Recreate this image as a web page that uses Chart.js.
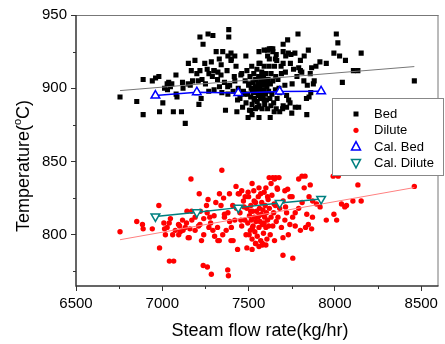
<!DOCTYPE html>
<html>
<head>
<meta charset="utf-8">
<script src="https://cdn.jsdelivr.net/npm/chart.js"></script>
<style>
  body { margin: 0; background: #fff; }
  #chart { display: block; }
</style>
</head>
<body>
<canvas id="chart" width="445" height="344"></canvas>
<script>
/* Data: [steam flow (kg/hr), temperature (C)] */
let bedPoints = [
  [6755,894],[6852,891],[6889,882],[6889,906],[6942,905],[6961,907],[6980,908],[6984,884],[7003,890],
  [7013,900],[7028,903],[7037,904],[7047,901],[7064,884],[7079,909],[7085,894],[7111,884],[7117,904],
  [7133,876],[7151,917],[7162,902],[7168,912],[7189,919],[7200,910],[7208,905],[7212,889],[7218,935],
  [7218,912],[7236,930],[7246,917],[7265,937],[7269,898],[7284,918],[7293,936],[7299,912],[7312,925],
  [7322,911],[7331,901],[7341,916],[7350,925],[7366,885],[7379,901],[7385,940],[7385,935],[7398,924],
  [7398,919],[7417,908],[7427,915],[7432,884],[7436,892],[7455,909],[7465,887],[7474,896],[7484,922],
  [7497,880],[7503,903],[7512,885],[7522,899],[7532,892],[7541,906],[7551,887],[7560,917],[7570,896],
  [7580,910],[7590,892],[7600,903],[7610,926],[7619,915],[7629,888],[7640,927],[7648,884],[7657,908],
  [7663,919],[7676,900],[7688,915],[7697,886],[7700,925],[7713,911],[7726,933],[7732,892],[7742,917],
  [7752,903],[7768,924],[7770,887],[7786,937],[7790,914],[7800,919],[7808,911],[7822,922],[7837,882],
  [7846,926],[7850,894],[7857,910],[7865,914],[7875,903],[7890,915],[7913,918],[7950,917],[7994,924],
  [8008,937],[8017,931],[8027,922],[8043,904],[8061,919],[8107,912],[8133,912],[8152,924],[8460,905],
  [7470,898],[7480,905],[7485,890],[7490,912],[7495,896],[7500,902],[7505,885],[7508,908],[7512,894],
  [7515,900],[7518,915],[7520,889],[7525,904],[7528,897],[7530,910],[7535,893],[7538,901],[7540,886],
  [7543,906],[7546,898],[7548,913],[7550,891],[7553,903],[7556,895],[7558,908],[7560,888],[7563,900],
  [7566,917],[7568,893],[7570,905],[7573,897],[7576,911],[7578,886],[7580,902],[7583,894],[7586,907],
  [7588,899],[7590,915],[7593,889],[7596,904],[7598,896],[7600,910],[7603,892],[7606,901],[7610,886],
  [7613,906],[7616,898],[7620,920],[7623,893],[7626,903],[7630,910],[7635,896],[7640,905],[7645,890],
  [7650,915],[7655,899],[7660,923],[7665,893],[7670,906],[7680,897],[7690,910],[7700,888],[7710,902],
  [7720,895],[7640,925],[7655,920],[7630,927],[7625,880],[7560,880],[7520,882],
  [7230,906],[7250,903],[7270,910],[7290,908],[7300,912],[7320,906],[7340,909],[7360,904],[7375,912],
  [7390,902],[7410,898],[7420,905],[7440,900],[7450,893],[7460,910],[7345,897],[7380,896],[7300,899],
  [7260,913],[7175,905],[7150,903],[7120,900],[7080,896],[7055,903],[7030,899],[7200,897],[7225,893],
  [7400,920],[7420,922],[7380,922],[7330,920],[7700,917],[7715,922],[7730,924],[7745,923],[7760,913],
  [7780,908],[7800,912],[7820,905],[7840,902],[7860,897],[7880,905],[7835,893],[7750,883],[7790,887],
  [7700,930],[7610,922],[7590,926],[7560,925],[7620,927],[7720,887],[7740,890],[7680,884],[7660,886]
];

let dilutePoints = [
  [6755,802],[6852,809],[6885,807],[6889,804],[6942,804],[6980,820],[6984,791],[7009,808],[7013,804],
  [7018,800],[7028,805],[7041,782],[7066,782],[7047,811],[7075,803],[7094,807],[7104,802],[7117,810],
  [7133,805],[7143,816],[7156,798],[7166,838],[7171,810],[7190,803],[7214,828],[7218,807],[7227,796],
  [7237,779],[7261,778],[7256,820],[7265,824],[7275,812],[7284,773],[7293,803],[7303,799],[7322,796],
  [7331,828],[7345,844],[7360,814],[7370,803],[7379,776],[7383,772],[7389,828],[7398,796],[7408,820],
  [7427,833],[7436,790],[7446,828],[7455,810],[7474,819],[7490,791],[7497,829],[7503,800],[7512,816],
  [7522,805],[7532,823],[7541,794],[7560,813],[7570,828],[7580,793],[7590,808],[7610,826],[7619,839],
  [7640,839],[7648,821],[7657,839],[7667,831],[7676,839],[7699,798],[7699,786],[7714,819],[7726,831],
  [7739,807],[7752,826],[7756,784],[7770,815],[7790,838],[7800,803],[7809,840],[7822,832],[7827,840],
  [7837,814],[7846,807],[7857,834],[7865,804],[7871,823],[7893,821],[7914,819],[7950,810],[7990,840],
  [7994,814],[8010,810],[8019,840],[8038,821],[8057,819],[8067,820],[8104,823],[8133,834],[8152,823],
  [8460,833],
  [7450,815],[7460,806],[7470,823],[7478,810],[7485,800],[7490,818],[7495,808],[7500,826],[7505,813],
  [7510,803],[7513,820],[7516,810],[7520,797],[7523,816],[7526,806],[7530,830],[7533,812],[7536,802],
  [7540,822],[7543,809],[7546,816],[7550,799],[7553,812],[7556,826],[7560,805],[7563,818],[7566,809],
  [7570,796],[7573,814],[7576,822],[7580,807],[7583,817],[7586,801],[7590,829],[7593,812],[7596,820],
  [7600,805],[7603,815],[7606,797],[7610,810],[7613,824],[7616,806],[7620,818],[7625,800],[7630,812],
  [7635,827],[7640,806],[7645,815],[7650,796],[7655,820],[7660,809],[7665,832],[7670,812],[7680,818],
  [7690,805],[7700,823],[7710,810],[7720,815],[7730,800],[7740,826],[7755,812],[7770,806],[7790,818],
  [7810,822],[7830,805],[7850,826],[7870,812],[7580,794],[7600,793],[7560,792],[7540,794],[7520,790],
  [7420,810],[7400,805],[7380,815],[7360,812],[7340,820],[7320,805],[7300,813],[7280,808],[7260,815],
  [7240,811],[7220,816],[7190,812],[7160,804],[7140,808],[7100,806],[7060,800],[7040,808],[7350,800],
  [7330,796],[7410,796],[7440,828],[7460,830],[7480,826],[7430,818],[7355,825],[7240,800],[7170,816],
  [7210,806],[7150,798],[7120,803],[7095,800],[7270,805],[7310,822],[7390,809],[7650,838],[7630,835],
  [7710,830],[7600,832],[7560,832],[7520,835]
];

let fitX = [6755, 8460];
let bedFitY = [898.4, 914.8];
let diluteFitY = [796.6, 832.2];

let calX = [6960, 7200, 7440, 7680, 7920];
let calBedY = [895, 897.3, 896.8, 897.7, 897.9];
let calDiluteY = [812.5, 815.3, 818.5, 821.6, 824.4];

let xTicks = [6500, 7000, 7500, 8000, 8500];
let xMinor = [6750, 7250, 7750, 8250];
let yTicks = [800, 850, 900, 950];
let yMinor = [775, 825, 875, 925];

let legendItems = [
  { text: 'Bed', style: 'rect', color: '#000' },
  { text: 'Dilute', style: 'circle', color: '#ff0000' },
  { text: 'Cal. Bed', style: 'up', color: '#0000ff' },
  { text: 'Cal. Dilute', style: 'down', color: '#008080' }
];

const FONT = "'Liberation Sans', Arial, sans-serif";

function toXY(pairs) {
  return pairs.map(p => ({ x: p[0], y: p[1] }));
}
function zipXY(xs, ys) {
  return xs.map((x, i) => ({ x: x, y: ys[i] }));
}

//-----------------------------------------------//
/* frame, minor ticks, axis titles and legend */
//-----------------------------------------------//
const framePlugin = {
  id: 'frame',
  afterDraw(chart) {
    const ctx = chart.ctx;
    const a = chart.chartArea;
    const xs = chart.scales.x;
    const ys = chart.scales.y;
    ctx.save();

    // top and right border, thin
    ctx.strokeStyle = '#777';
    ctx.lineWidth = 1;
    ctx.beginPath();
    ctx.moveTo(a.left, a.top + 0.5);
    ctx.lineTo(a.right, a.top + 0.5);
    ctx.moveTo(a.right - 0.5, a.top);
    ctx.lineTo(a.right - 0.5, a.bottom);
    ctx.stroke();

    // left and bottom axis lines
    ctx.strokeStyle = '#333';
    ctx.lineWidth = 1.5;
    ctx.beginPath();
    ctx.moveTo(a.left, a.top);
    ctx.lineTo(a.left, a.bottom);
    ctx.lineTo(a.right, a.bottom);
    ctx.stroke();

    // minor ticks
    ctx.lineWidth = 1;
    ctx.beginPath();
    xMinor.forEach(v => {
      const px = Math.round(xs.getPixelForValue(v)) + 0.5;
      ctx.moveTo(px, a.bottom);
      ctx.lineTo(px, a.bottom + 3);
    });
    yMinor.forEach(v => {
      const py = Math.round(ys.getPixelForValue(v)) + 0.5;
      ctx.moveTo(a.left, py);
      ctx.lineTo(a.left - 3, py);
    });
    ctx.stroke();

    // x title
    ctx.fillStyle = '#000';
    ctx.font = '18px ' + FONT;
    ctx.textAlign = 'center';
    ctx.textBaseline = 'alphabetic';
    ctx.fillText('Steam flow rate(kg/hr)', 260, 336);

    // y title with superscript o
    ctx.translate(29, 166);
    ctx.rotate(-Math.PI / 2);
    ctx.textAlign = 'left';
    const big = '18px ' + FONT;
    const small = '11px ' + FONT;
    ctx.font = big;
    const w1 = ctx.measureText('Temperature(').width;
    const w3 = ctx.measureText('C)').width;
    ctx.font = small;
    const w2 = ctx.measureText('o').width;
    let x0 = -(w1 + w2 + w3) / 2;
    ctx.font = big;
    ctx.fillText('Temperature(', x0, 0);
    ctx.font = small;
    ctx.fillText('o', x0 + w1, -8);
    ctx.font = big;
    ctx.fillText('C)', x0 + w1 + w2, 0);
    ctx.restore();

    // legend box
    ctx.save();
    ctx.fillStyle = '#fff';
    ctx.fillRect(332, 98, 111, 77);
    ctx.strokeStyle = '#888';
    ctx.lineWidth = 1;
    ctx.strokeRect(332.5, 98.5, 111, 77);
    ctx.font = '13px ' + FONT;
    ctx.textBaseline = 'middle';
    ctx.textAlign = 'left';
    legendItems.forEach((item, i) => {
      const y = 114 + i * 16.3;
      const x = 356;
      ctx.fillStyle = item.color;
      ctx.strokeStyle = item.color;
      ctx.lineWidth = 1.5;
      if (item.style === 'rect') {
        ctx.fillRect(x - 2.5, y - 2.5, 5, 5);
      } else if (item.style === 'circle') {
        ctx.beginPath();
        ctx.arc(x, y, 2.6, 0, Math.PI * 2);
        ctx.fill();
      } else {
        const d = item.style === 'up' ? 1 : -1;
        ctx.beginPath();
        ctx.moveTo(x, y - 5 * d);
        ctx.lineTo(x + 4.5, y + 3.5 * d);
        ctx.lineTo(x - 4.5, y + 3.5 * d);
        ctx.closePath();
        ctx.stroke();
      }
      ctx.fillStyle = '#000';
      ctx.fillText(item.text, 374, y + 0.5);
    });
    ctx.restore();
  }
};

//-----------------------------------------------//
/* Scatter chart */
//-----------------------------------------------//
function scatterChart() {
  let ctx = document.getElementById('chart').getContext('2d');
  let chart = new Chart(ctx, {
    type: 'scatter',
    data: {
      datasets: [
        {
          label: 'Cal. Bed',
          data: zipXY(calX, calBedY),
          showLine: true,
          borderColor: '#0000ff',
          borderWidth: 1.5,
          pointStyle: 'triangle',
          pointRadius: 5,
          pointBorderWidth: 1.5,
          pointBorderColor: '#0000ff',
          pointBackgroundColor: '#fff',
          order: 0,
        },
        {
          label: 'Cal. Dilute',
          data: zipXY(calX, calDiluteY),
          showLine: true,
          borderColor: '#008080',
          borderWidth: 1.5,
          pointStyle: 'triangle',
          rotation: 180,
          pointRadius: 5,
          pointBorderWidth: 1.5,
          pointBorderColor: '#008080',
          pointBackgroundColor: '#fff',
          order: 0,
        },
        {
          label: 'Bed fit',
          data: zipXY(fitX, bedFitY),
          showLine: true,
          borderColor: '#777',
          borderWidth: 1,
          pointRadius: 0,
          order: 1,
        },
        {
          label: 'Dilute fit',
          data: zipXY(fitX, diluteFitY),
          showLine: true,
          borderColor: '#ff8080',
          borderWidth: 1,
          pointRadius: 0,
          order: 1,
        },
        {
          label: 'Bed',
          data: toXY(bedPoints),
          pointStyle: 'rect',
          pointRadius: 3.6,
          pointBorderWidth: 0,
          backgroundColor: '#000',
          borderColor: '#000',
          order: 2,
        },
        {
          label: 'Dilute',
          data: toXY(dilutePoints),
          pointStyle: 'circle',
          pointRadius: 2.7,
          pointBorderWidth: 0,
          backgroundColor: '#ff0000',
          borderColor: '#ff0000',
          order: 2,
        },
      ],
    },
    options: {
      responsive: false,
      animation: false,
      devicePixelRatio: 1,
      layout: { padding: { top: 15, right: 2, left: 0, bottom: 0 } },
      scales: {
        x: {
          type: 'linear',
          min: 6500,
          max: 8600,
          afterBuildTicks: s => { s.ticks = xTicks.map(v => ({ value: v })); },
          afterFit: s => { s.height = 58; },
          grid: { drawOnChartArea: false, drawTicks: true, tickLength: 5, color: '#333', tickWidth: 1 },
          border: { display: false },
          ticks: {
            autoSkip: false,
            maxRotation: 0,
            color: '#000',
            padding: 4,
            font: { family: FONT, size: 15 },
            callback: v => String(v),
          },
        },
        y: {
          type: 'linear',
          min: 765,
          max: 950,
          afterBuildTicks: s => { s.ticks = yTicks.map(v => ({ value: v })); },
          afterFit: s => { s.width = 76; },
          grid: { drawOnChartArea: false, drawTicks: true, tickLength: 5, color: '#333', tickWidth: 1 },
          border: { display: false },
          ticks: {
            autoSkip: false,
            color: '#000',
            padding: 4,
            font: { family: FONT, size: 15 },
            callback: v => String(v),
          },
        },
      },
      plugins: {
        legend: { display: false },
        tooltip: { enabled: false },
      },
    },
    plugins: [framePlugin],
  });
}

scatterChart();
</script>
</body>
</html>
